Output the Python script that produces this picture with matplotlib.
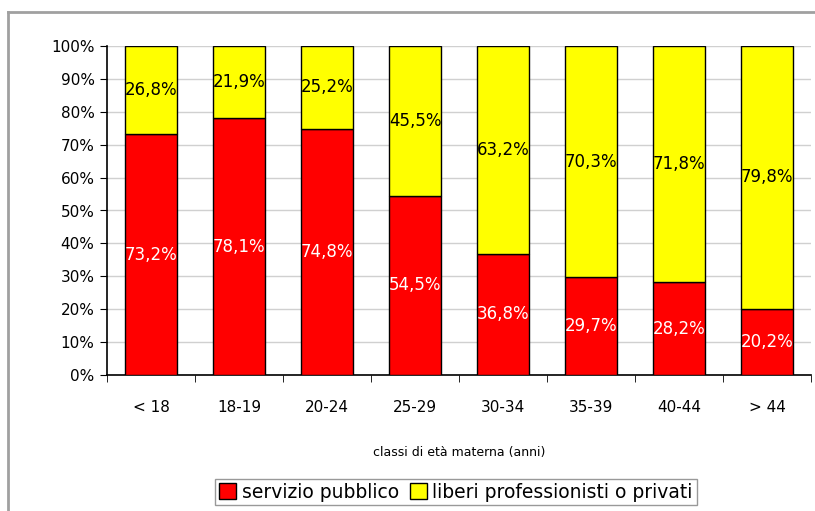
import matplotlib.pyplot as plt
from matplotlib.lines import Line2D
import numpy as np

# data
categories = ['< 18', '18-19', '20-24', '25-29', '30-34', '35-39', '40-44', '> 44']
pubblico = [73.2, 78.1, 74.8, 54.5, 36.8, 29.7, 28.2, 20.2]
privati = [26.8, 21.9, 25.2, 45.5, 63.2, 70.3, 71.8, 79.8]
yticks = list(range(0, 101, 10))

plt.rcParams['font.family'] = ['DejaVu Sans']

fig = plt.figure(figsize=(8.15, 5.11), dpi=100)
ax = fig.add_axes([107 / 815, 136 / 511, 704 / 815, 329 / 511])

x = np.arange(len(categories))
w = 0.59
ax.bar(x, pubblico, w, color='#ff0000', edgecolor='black', linewidth=1,
       label='servizio pubblico', zorder=3)
ax.bar(x, privati, w, bottom=pubblico, color='#ffff00', edgecolor='black',
       linewidth=1, label='liberi professionisti o privati', zorder=3)

def fmt(v):
    return f'{v:.1f}%'.replace('.', ',')

for xi, p, q in zip(x, pubblico, privati):
    ax.text(xi, p / 2, fmt(p), ha='center', va='center', color='white',
            fontsize=12, zorder=4)
    ax.text(xi, p + q / 2, fmt(q), ha='center', va='center', color='black',
            fontsize=12, zorder=4)

ax.set_xlim(-0.5, len(categories) - 0.5)
ax.set_ylim(0, 100)
ax.set_yticks(yticks)
ax.set_yticklabels([f'{t}%' for t in yticks], fontsize=11)
ax.set_xticks(x)
ax.set_xticklabels(categories, fontsize=11)
ax.set_xticks(np.arange(-0.5, len(categories)), minor=True)
ax.tick_params(axis='x', which='major', length=0, pad=18)
ax.tick_params(axis='x', which='minor', length=5, direction='out', color='black')
ax.tick_params(axis='y', length=5, direction='out', pad=4)
ax.grid(axis='y', color='#d0d0d0', linewidth=1, zorder=0)
for s in ['top', 'right']:
    ax.spines[s].set_visible(False)
for s in ['left', 'bottom']:
    ax.spines[s].set_linewidth(1.2)

ax.set_xlabel('classi di età materna (anni)', fontsize=9, labelpad=22)

leg = fig.legend(loc='center', bbox_to_anchor=(456 / 815, 1 - 492 / 511), ncol=2,
                 fontsize=13.5, frameon=True, fancybox=False, edgecolor='#808080',
                 handlelength=0.9, handleheight=0.9, handletextpad=0.3,
                 columnspacing=0.6, borderpad=0.2)
leg.get_frame().set_linewidth(1)

# outer gray frame (left and top edges visible)
fig.add_artist(Line2D([8 / 815, 8 / 815], [0, 1 - 12 / 511], color='#a0a0a0',
                      linewidth=2, transform=fig.transFigure))
fig.add_artist(Line2D([8 / 815, 1], [1 - 12 / 511, 1 - 12 / 511], color='#a0a0a0',
                      linewidth=2, transform=fig.transFigure))

plt.savefig('out.png', dpi=100)
